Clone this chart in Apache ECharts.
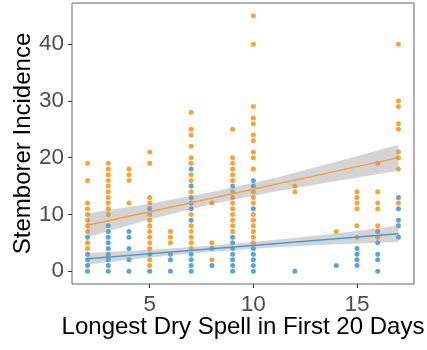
<!DOCTYPE html>
<html>
<head>
<meta charset="utf-8">
<script src="https://cdn.jsdelivr.net/npm/echarts@6/dist/echarts.min.js"></script>
<style>
  html, body { margin: 0; padding: 0; background: #fff; }
  #chart { width: 427px; height: 350px; }
</style>
</head>
<body>
<div id="chart"></div>
<script>
// Longest dry spell (days) observed in each field column
const dryDays = [2, 3, 4, 5, 6, 7, 8, 9, 10, 12, 14, 15, 16, 17];

// Stemborer counts per dry-spell length, orange group
const orangeCounts = [
  [19, 16, 12, 11, 10, 9, 8, 7, 5, 4],
  [19, 18, 17, 16, 15, 14, 13, 12, 11, 10],
  [18, 17, 16, 12],
  [21, 19, 13, 12, 10, 9, 8, 7, 6, 5, 4, 2, 1],
  [7, 6, 5],
  [28, 25, 24, 22, 20, 19, 17, 16, 14, 10, 8, 7, 6, 5, 4],
  [12, 5, 2],
  [25, 20, 19, 18, 17, 16, 14, 13, 12, 11, 10, 9, 8, 7],
  [45, 40, 29, 27, 26, 24, 23, 21, 20, 18, 14, 13, 12, 10, 9, 8, 7, 6, 5],
  [15, 14],
  [7],
  [14, 13, 12, 11, 8, 6],
  [19, 14, 12, 11, 8, 6],
  [40, 30, 29, 26, 25, 21, 20, 18, 12]
];

// Stemborer counts per dry-spell length, blue group
const blueCounts = [
  [6, 3, 2, 1, 0],
  [8, 7, 6, 5, 4, 3, 2, 1, 0],
  [7, 6, 4, 2, 0],
  [11, 3, 0],
  [3, 2, 0],
  [18, 15, 13, 12, 11, 9, 3, 2, 1, 0],
  [4, 1],
  [15, 6, 5, 4, 3, 2, 1, 0],
  [16, 15, 11, 4, 3, 2, 1, 0],
  [0],
  [1],
  [4, 3, 2, 1],
  [7, 5, 3, 2, 0],
  [13, 11, 9, 8, 6]
];

// Linear fits and their confidence bands
const fitX = [2, 17];
const orangeFit = [8.1, 20.0];
const blueFit = [2.2, 6.6];
const bandX = [2, 5, 8, 11, 14, 17];
const orangeLower = [6.0, 9.1, 11.85, 14.0, 15.9, 17.7];
const orangeUpper = [10.2, 11.9, 13.95, 16.4, 19.3, 22.3];
const blueLower = [1.2, 2.4, 3.45, 4.2, 4.75, 5.15];
const blueUpper = [3.2, 3.8, 4.55, 5.5, 6.65, 8.05];

// Axis ticks
const xTicks = [5, 10, 15];
const yTicks = [0, 10, 20, 30, 40];

const FONT = '"Liberation Sans", Arial, sans-serif';
const ORANGE = '#F9A23B';
const BLUE = '#5AA3DB';
const BAND = 'rgba(153,153,153,0.42)';

function pairs(counts) {
  const out = [];
  counts.forEach((list, i) => list.forEach(v => out.push([dryDays[i], v])));
  return out;
}
function zipXY(xs, ys) { return xs.map((x, i) => [x, ys[i]]); }

// Confidence band as a filled polygon: upper edge left-to-right, lower edge back
function bandSeries(lower, upper) {
  return {
    type: 'custom',
    data: bandX.map((x, i) => [x, lower[i], upper[i]]),
    silent: true,
    z: 3,
    renderItem: function (params, api) {
      if (params.dataIndex !== 0) return null;
      const top = bandX.map((x, i) => api.coord([x, upper[i]]));
      const bottom = bandX.map((x, i) => api.coord([x, lower[i]])).reverse();
      return {
        type: 'polygon',
        shape: { points: top.concat(bottom) },
        style: { fill: BAND, stroke: null }
      };
    }
  };
}

const chart = echarts.init(document.getElementById('chart'), null, { renderer: 'canvas' });
chart.setOption({
  animation: false,
  backgroundColor: '#fff',
  grid: {
    left: 72, right: 13, top: 3, bottom: 66,
    containLabel: false, outerBoundsMode: 'none',
    show: true, borderColor: '#666', borderWidth: 1, backgroundColor: '#fff'
  },
  xAxis: {
    type: 'value', min: 1.25, max: 17.75,
    axisLine: { show: false, onZero: false },
    splitLine: { show: false },
    axisTick: { show: true, length: 4, customValues: xTicks, lineStyle: { color: '#333' } },
    axisLabel: { customValues: xTicks, fontSize: 22.5, color: '#4d4d4d', fontFamily: FONT, margin: 9 },
    name: 'Longest Dry Spell in First 20 Days',
    nameLocation: 'middle', nameGap: 31, nameMoveOverlap: false,
    nameTextStyle: { fontSize: 24, color: '#000', fontFamily: FONT }
  },
  yAxis: {
    type: 'value', min: -2.25, max: 47.25,
    axisLine: { show: false, onZero: false },
    splitLine: { show: false },
    axisTick: { show: true, length: 4, customValues: yTicks, lineStyle: { color: '#333' } },
    axisLabel: { customValues: yTicks, fontSize: 22.5, color: '#4d4d4d', fontFamily: FONT, margin: 8 },
    name: 'Stemborer Incidence',
    nameLocation: 'middle', nameGap: 37, nameMoveOverlap: false,
    nameTextStyle: { fontSize: 24, color: '#000', fontFamily: FONT }
  },
  series: [
    {
      type: 'scatter', data: pairs(orangeCounts), symbolSize: 5,
      itemStyle: { color: ORANGE, opacity: 1 }, z: 2
    },
    {
      type: 'scatter', data: pairs(blueCounts), symbolSize: 5,
      itemStyle: { color: BLUE, opacity: 1 }, z: 2
    },
    bandSeries(orangeLower, orangeUpper),
    bandSeries(blueLower, blueUpper),
    {
      type: 'line', data: zipXY(fitX, orangeFit), symbol: 'none',
      lineStyle: { color: '#F5A040', width: 1.3 }, z: 4
    },
    {
      type: 'line', data: zipXY(fitX, blueFit), symbol: 'none',
      lineStyle: { color: '#4A9AD8', width: 1.3 }, z: 4
    }
  ]
});
</script>
</body>
</html>
